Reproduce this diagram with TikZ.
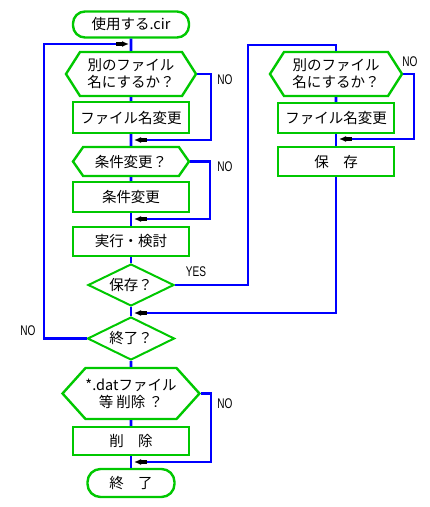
\documentclass[tikz,border=0pt]{standalone}
\usepackage{fontspec}
\setmainfont{Noto Sans CJK JP}
\newfontfamily\latinfont[FakeStretch=0.72]{Liberation Sans}
\usetikzlibrary{arrows.meta,positioning,shapes.geometric,shapes.symbols}
\definecolor{flowgreen}{RGB}{0,200,0}
\definecolor{flowblue}{RGB}{0,0,255}

\begin{document}
\begin{tikzpicture}[
    x=1pt, y=1pt,
    font=\fontsize{14.5}{17}\selectfont,
    proc/.style={
		rectangle,
		draw=flowgreen,
		line width=2.4pt,
		minimum width=116pt,
		minimum height=30pt,
		inner sep=0pt,
		text centered,
		fill=white
	},
	term/.style={
		proc,
		rounded corners=12pt,
		minimum height=26pt
	},
	hexa/.style={
		signal,
		signal to=west and east,
		draw=flowgreen,
		line width=2.4pt,
		inner sep=0pt,
		align=center,
		fill=white
	},
	cond/.style={
		diamond,
		aspect=2,
		draw=flowgreen,
		line width=2pt,
		inner sep=0pt,
		fill=white
	},
	flow/.style={
		draw=flowblue,
		line width=2.6pt
	},
	merge/.style={
		flow,
		-{Rectangle[color=black,fill=black,length=6pt,width=3.5pt]Latex[color=black,fill=black,length=7pt,width=6pt]}
	},
	lbl/.style={
		font=\latinfont\fontsize{14}{14}\selectfont,
		inner sep=0pt
	}
  ]
  \useasboundingbox (0,0) rectangle (430,-507);

  % main column
  \node [term] (start) at (131,-24.5) {使用する.cir};
  \node [hexa, node distance=49.5pt, below of=start, minimum width=130pt, minimum height=44pt, signal pointer angle=115] (askname) {別のファイル\\名にするか？};
  \node [proc, node distance=43.5pt, below of=askname, minimum height=31pt] (rename) {ファイル名変更};
  \node [hexa, node distance=44pt, below of=rename, minimum width=116pt, minimum height=29pt, signal pointer angle=110] (askcond) {条件変更？};
  \node [proc, node distance=35.5pt, below of=askcond] (cond) {条件変更};
  \node [proc, node distance=44.5pt, below of=cond, minimum height=29pt] (run) {実行・検討};
  \node [cond, node distance=43.5pt, below of=run, minimum width=86pt, minimum height=42pt] (asksave) {保存？};
  \node [cond, node distance=53.5pt, below of=asksave, minimum width=87pt, minimum height=43pt] (askend) {終了？};
  \node [hexa, node distance=55pt, below of=askend, minimum width=133pt, minimum height=51pt, signal pointer angle=96] (askdel) {*.datファイル\\等 削除 ？};
  \node [proc, node distance=47.5pt, below of=askdel, minimum height=28pt] (del) {削　除};
  \node [term, node distance=42pt, below of=del, minimum width=87pt, minimum height=28pt, rounded corners=13pt] (stop) {終　了};

  % right column
  \node [hexa, node distance=205pt, right of=askname, minimum width=132pt, minimum height=44pt, signal pointer angle=115] (askname2) {別のファイル\\名にするか？};
  \node [proc, node distance=44pt, below of=askname2] (rename2) {ファイル名変更};
  \node [proc, node distance=43.5pt, below of=rename2, minimum height=29pt] (save) {保　存};

  % corners and merge points
  \coordinate (m0) at (129,-44);
  \coordinate (l0) at (44,-44);
  \coordinate (m1) at (134,-140);
  \coordinate (n1) at (211,-140);
  \coordinate (m2) at (134,-219);
  \coordinate (n2) at (210,-219);
  \coordinate (y1) at (248,-45);
  \coordinate (m3) at (134,-313);
  \coordinate (m4) at (134,-462);
  \coordinate (n4) at (211,-462);
  \coordinate (m5) at (339,-139);
  \coordinate (n5) at (414,-139);

  \draw [flow] (start) -- (askname);
  \draw [flow] (askname) -- (rename);
  \draw [flow] (rename) -- (askcond);
  \draw [flow] (askcond) -- (cond);
  \draw [flow] (cond) -- (run);
  \draw [flow] (run) -- (asksave);
  \draw [flow] (asksave) -- (askend);
  \draw [flow] (askend) -- (askdel);
  \draw [flow] (askdel) -- (del);
  \draw [flow] (del) -- (stop);
  \draw [flow] (askname2) -- (rename2);
  \draw [flow] (rename2) -- (save);

  \draw [merge] (askname.east) -| (n1) -- (m1);
  \draw [merge] (askcond.east) -| (n2) -- (m2);
  \draw [flow] (asksave.east) -| (y1) -| (askname2.north);
  \draw [merge] (askname2.east) -| (n5) -- (m5);
  \draw [merge] (save.south) |- (m3);
  \draw [merge] (askend.west) -| (l0) -- (m0);
  \draw [merge] (askdel.east) -| (n4) -- (m4);

  \node [lbl] (no1) at (225,-80) {NO};
  \node [lbl] (no2) at (225,-167) {NO};
  \node [lbl] (yes) at (196,-272) {YES};
  \node [lbl] (no3) at (28,-331) {NO};
  \node [lbl] (no4) at (225,-404) {NO};
  \node [lbl] (no5) at (410,-62) {NO};
\end{tikzpicture}
\end{document}
